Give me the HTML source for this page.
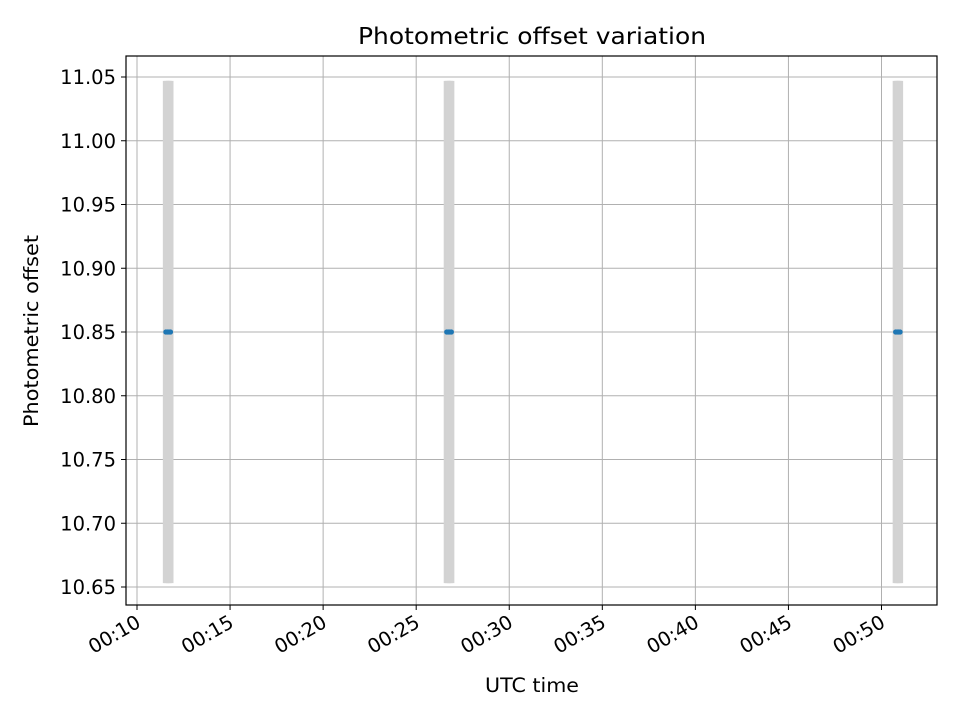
<!DOCTYPE html>
<html><head><meta charset="utf-8"><style>body{margin:0;background:#fff}svg{display:block}text{font-family:"DejaVu Sans","Liberation Sans",sans-serif;fill:#000}</style></head>
<body>
<svg id="chart" width="960" height="720" viewBox="0 0 960 720" xmlns="http://www.w3.org/2000/svg">
<rect width="960" height="720" fill="#fff"/>
<text x="358" y="44" font-size="23" textLength="348" lengthAdjust="spacingAndGlyphs">Photometric offset variation</text>
<text x="485" y="692" font-size="19.5" textLength="94" lengthAdjust="spacingAndGlyphs">UTC time</text>
<text x="0" y="0" font-size="19.5" textLength="192" lengthAdjust="spacingAndGlyphs" transform="translate(38 427) rotate(-90)">Photometric offset</text>
<g id="grid"></g>
<g id="marks"></g>
<rect x="126" y="56" width="811" height="549" fill="none" stroke="#000" stroke-width="1.2"/>
<g id="ticks"></g>
</svg>
<script>
const xTickMinutes=[10,15,20,25,30,35,40,45,50];
const xTickLabels=["00:10","00:15","00:20","00:25","00:30","00:35","00:40","00:45","00:50"];
const yTickValues=[10.65,10.70,10.75,10.80,10.85,10.90,10.95,11.00,11.05];
const yTickLabels=["10.65","10.70","10.75","10.80","10.85","10.90","10.95","11.00","11.05"];
const pointMinutes=[11.55,11.63,11.72,11.8,26.64,26.72,26.81,26.89,50.76,50.84,50.92,51.0];
const pointOffsets=[10.85,10.85,10.85,10.85,10.85,10.85,10.85,10.85,10.85,10.85,10.85,10.85];
const pointErrors=[0.197,0.197,0.197,0.197,0.197,0.197,0.197,0.197,0.197,0.197,0.197,0.197];

const NS="http://www.w3.org/2000/svg";
const L=126,R=937,T=56,B=605;
function xs(m){return 137+(m-10)*(881.5-137)/40;}
function ys(v){return 587+(10.65-v)*(587-77)/0.4;}
function mk(tag,attrs,parent){const e=document.createElementNS(NS,tag);for(const k in attrs)e.setAttribute(k,attrs[k]);parent.appendChild(e);return e;}
const grid=document.getElementById('grid'),marks=document.getElementById('marks'),ticks=document.getElementById('ticks');
xTickMinutes.forEach((m,i)=>{
 const x=xs(m);
 const g=mk('line',{x1:x,x2:x,y1:T,y2:B,stroke:'#b0b0b0','stroke-width':1},grid);
 
 
 const t=mk('line',{x1:x,x2:x,y1:B,y2:B+5,stroke:'#000','stroke-width':1},ticks);
 
 
 const ax=x+5,ay=B+21;
 const tx=mk('text',{x:0,y:0,'font-size':19.5,'text-anchor':'end',transform:`translate(${ax} ${ay}) rotate(-30)`},ticks);
 tx.textContent=xTickLabels[i];
 
 
});
yTickValues.forEach((v,i)=>{
 const y=ys(v);
 const g=mk('line',{x1:L,x2:R,y1:y,y2:y,stroke:'#b0b0b0','stroke-width':1},grid);
 
 
 const t=mk('line',{x1:L-5,x2:L,y1:y,y2:y,stroke:'#000','stroke-width':1},ticks);
 
 
 const tx=mk('text',{x:L-10,y:y+7,'font-size':19.5,'text-anchor':'end'},ticks);
 tx.textContent=yTickLabels[i];
 
 
});
pointMinutes.forEach((m,i)=>{
 const x=xs(m);
 const e=mk('line',{x1:x,x2:x,y1:ys(pointOffsets[i]+pointErrors[i]),y2:ys(pointOffsets[i]-pointErrors[i]),stroke:'#d3d3d3','stroke-width':6},marks);
 
 
});
pointMinutes.forEach((m,i)=>{
 const p=mk('circle',{cx:xs(m),cy:ys(pointOffsets[i]),r:2.6,fill:'#1f77b4'},marks);
 
 
});
</script>
</body></html>
